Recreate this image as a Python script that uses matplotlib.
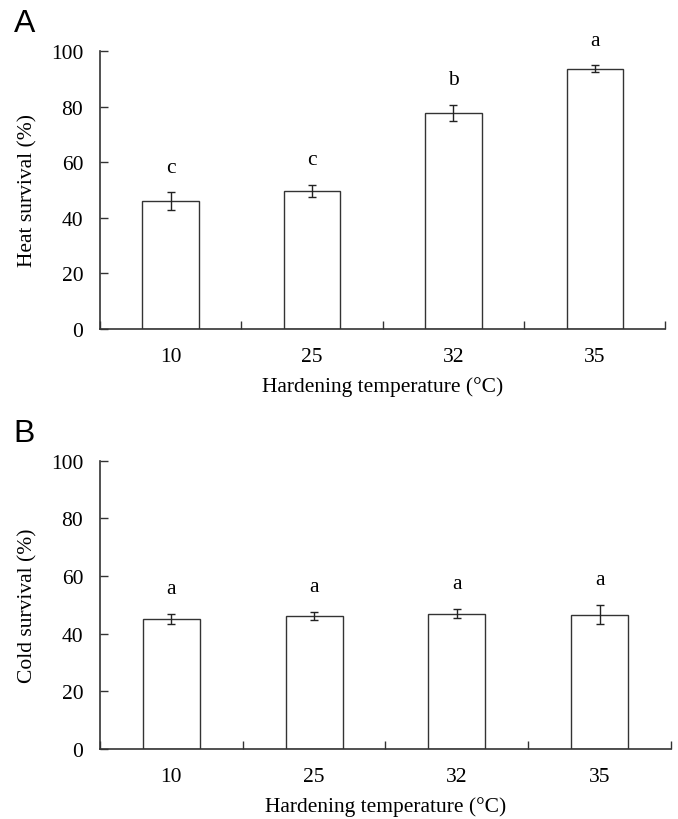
import numpy as np
import matplotlib.pyplot as plt

# hardening temperatures and survival data
temps = ["10", "25", "32", "35"]
heat_mean = [46.0, 49.7, 77.8, 93.7]
heat_err = [3.3, 2.2, 2.9, 1.3]
heat_letters = ["c", "c", "b", "a"]
cold_mean = [45.0, 46.1, 46.9, 46.6]
cold_err = [1.8, 1.5, 1.6, 3.3]
cold_letters = ["a", "a", "a", "a"]

plt.rcParams['font.family'] = ['Liberation Serif', 'DejaVu Serif']
edge = "#333333"
fs = 15.5

fig = plt.figure(figsize=(6.78, 8.2), dpi=100)
axA = fig.add_axes([0.1475, 0.5976, 0.834, 0.339])
axB = fig.add_axes([0.1475, 0.0854, 0.842, 0.3516])


def draw_panel(ax, means, errs, letters, ylabel, panel):
    x = np.arange(len(temps))
    ax.bar(x, means, width=0.4, color="white", edgecolor=edge, linewidth=1.0, zorder=2)
    ax.errorbar(x, means, yerr=errs, fmt="none", ecolor="#222222",
                elinewidth=1.0, capsize=3, capthick=1.0, zorder=3)
    for xi, m, e, lab in zip(x, means, errs, letters):
        ax.text(xi, m + e + 5.5, lab, ha="center", va="bottom", fontsize=fs)

    ax.set_xlim(-0.5, len(temps) - 0.5)
    ax.set_ylim(0, 100)
    ax.set_yticks([0, 20, 40, 60, 80, 100])
    ax.set_xticks(x)
    ax.set_xticklabels(temps)
    ax.set_xticks(np.arange(len(temps) + 1) - 0.5, minor=True)
    ax.tick_params(axis="x", which="major", length=0, pad=13, labelsize=fs)
    ax.tick_params(axis="x", which="minor", direction="in", length=6, width=1, color=edge)
    ax.tick_params(axis="y", direction="in", length=6, width=1, color=edge,
                   labelsize=fs, pad=12)

    for s in ["top", "right"]:
        ax.spines[s].set_visible(False)
    for s in ["left", "bottom"]:
        ax.spines[s].set_color(edge)
        ax.spines[s].set_linewidth(1.2)

    ax.set_xlabel("Hardening temperature (°C)", fontsize=fs, labelpad=7)
    ax.set_ylabel(ylabel, fontsize=fs, labelpad=10)
    ax.text(-0.152, 1.045, panel, transform=ax.transAxes, fontsize=23,
            family="Liberation Sans", ha="left", va="bottom")


draw_panel(axA, heat_mean, heat_err, heat_letters, "Heat survival (%)", "A")
draw_panel(axB, cold_mean, cold_err, cold_letters, "Cold survival (%)", "B")

fig.savefig("out.png", dpi=100)
